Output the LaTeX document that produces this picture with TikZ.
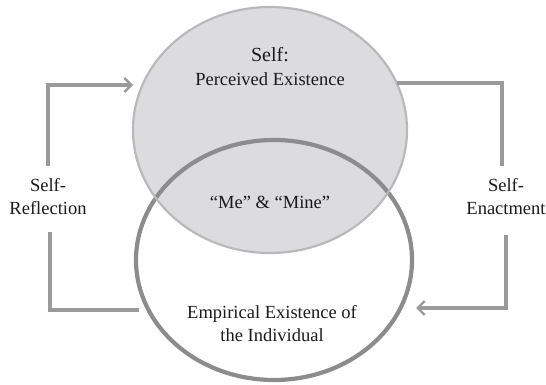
\documentclass[tikz,border=0pt]{standalone}
\usepackage{fontspec}
\setmainfont{Liberation Serif}
\usetikzlibrary{arrows.meta}
\definecolor{topfill}{HTML}{DCDCDE}
\definecolor{topline}{HTML}{B9B9BB}
\definecolor{botline}{HTML}{8C8C8E}
\definecolor{conn}{HTML}{9A9A9C}
\definecolor{txt}{HTML}{1A1A1A}
\tikzset{
  conline/.style={draw=conn, line width=3.2pt, line join=miter},
  contip/.style={-{Straight Barb[length=7pt,width=14pt,line width=2.4pt]}},
  lbl/.style={text=txt, align=center, inner sep=0pt, font=\fontsize{18.5}{23}\selectfont},
}
\begin{document}
\begin{tikzpicture}[x=1pt,y=-1pt]
\useasboundingbox (0,0) rectangle (546,385);
% top ellipse fill
\fill[topfill] (270,130) ellipse [x radius=137, y radius=123];
% bottom ellipse
\draw[botline, line width=4.2pt] (274,260) ellipse [x radius=138, y radius=120];
% top ellipse border
\draw[topline, line width=2.2pt] (270,130) ellipse [x radius=137, y radius=123];
% anchors
\coordinate (topL) at (133,85);
\coordinate (topR) at (397,83);
\coordinate (botL) at (139,310);
\coordinate (botR) at (416,308);
% labels
\node[lbl, font=\fontsize{20}{23}\selectfont] (self) at (270,55) {Self:};
\node[lbl] (perc) at (270,79) {Perceived Existence};
\node[lbl] (me) at (270,202) {“Me” \& “Mine”};
\node[lbl] (emp) at (272,324) {Empirical Existence of\\the Individual};
\node[lbl] (refl) at (48,197) {Self-\\Reflection};
\node[lbl] (enact) at (506,197) {Self-\\Enactment};
% connectors
\draw[conline, contip] (48,166) -- (48,85) -- (topL);
\draw[conline] (50,232) -- (50,310) -- (botL);
\draw[conline] (topR) -- (502,83) -- (502,166);
\draw[conline, contip] (506,235) -- (506,308) -- (botR);
\end{tikzpicture}
\end{document}
